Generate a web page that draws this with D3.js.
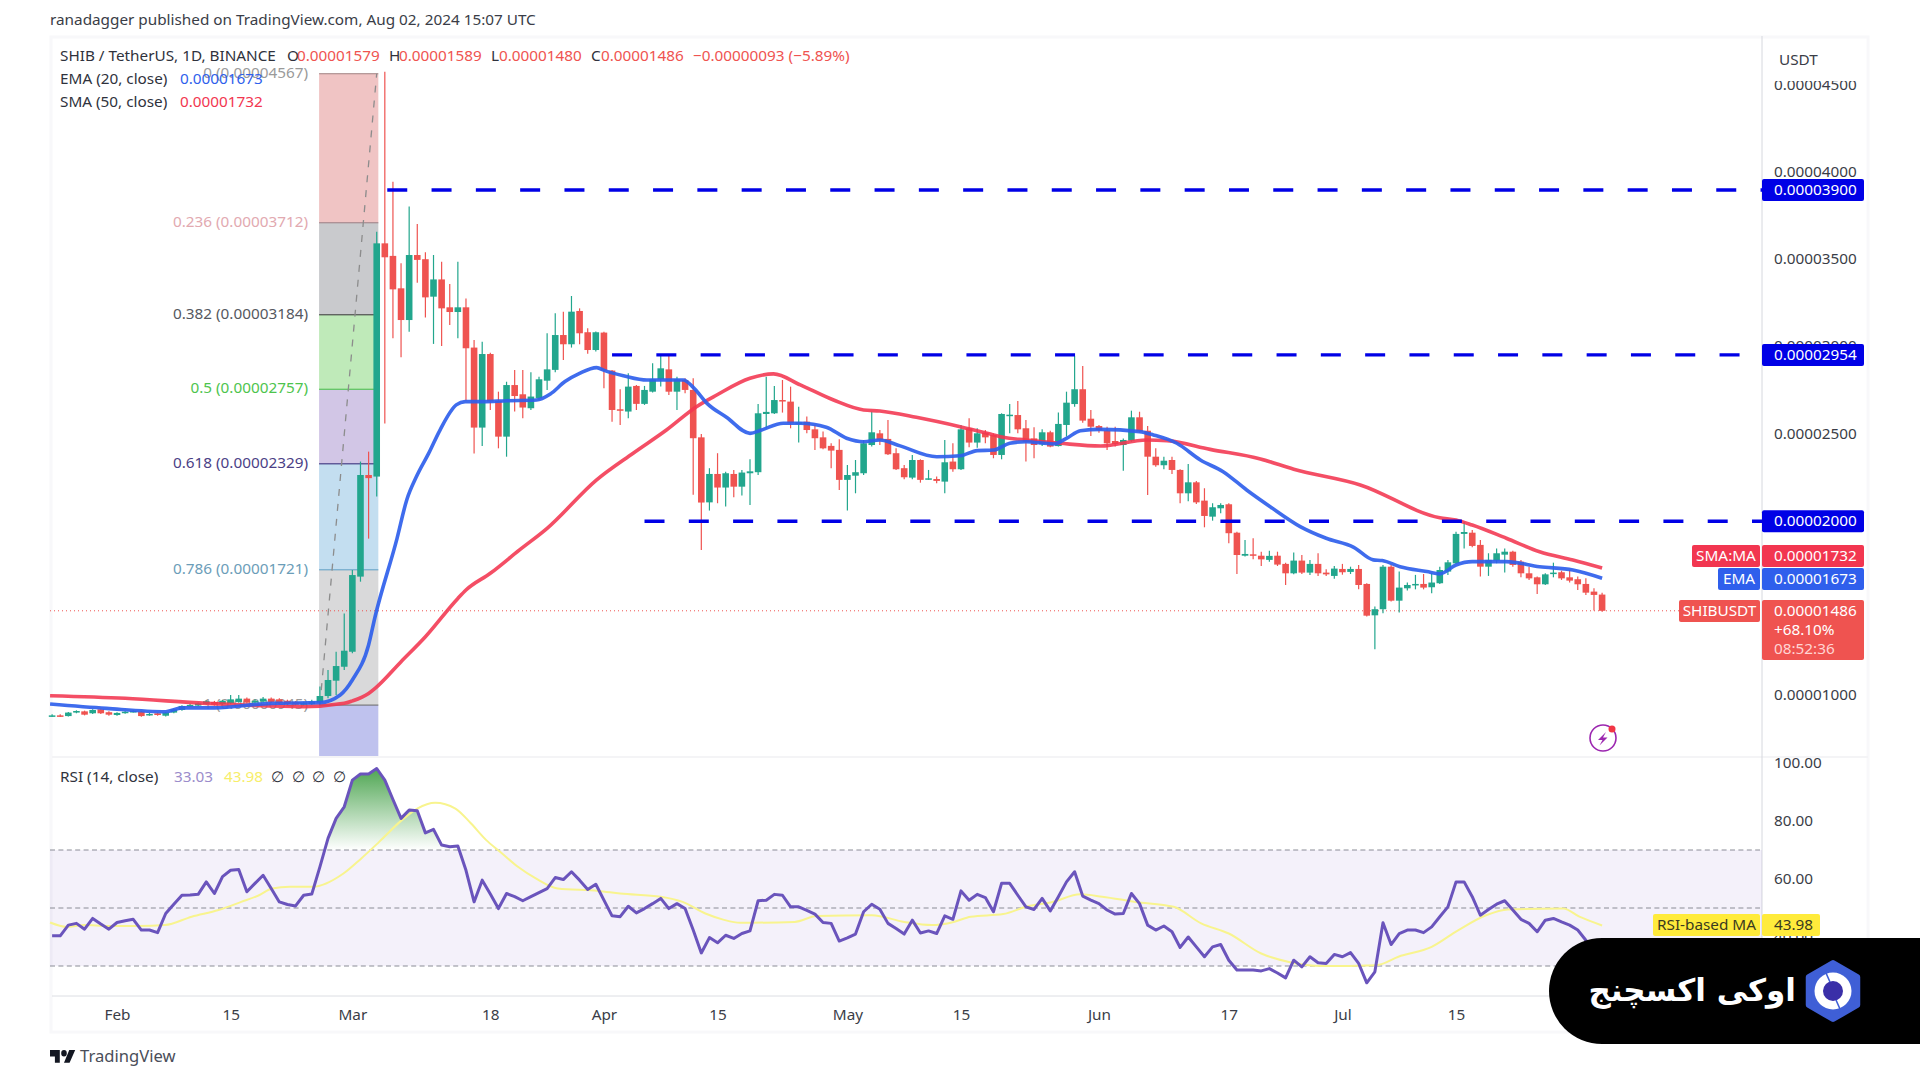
<!DOCTYPE html>
<html>
<head>
<meta charset="utf-8">
<style type="text/css">
html, body{
	padding: 0;
	margin: 0;
	background: white;
}
text {
	font-family: "Noto Sans", sans-serif;
	font-size: 15.3px;
	fill: #3a3d47;
}
</style>
</head>
<body>
<svg width=1920 height=1081></svg>
<script src="https://cdnjs.cloudflare.com/ajax/libs/d3/7.8.5/d3.min.js"></script>
<script type="text/javascript">
// prices are in 0.00000001 USDT, one row of ten per line, first candle is Jan 24
var opens = [
	884,886,882,902,909,898,921,904,888,900,
	907,907,888,898,884,902,917,940,942,951,
	963,951,955,963,982,959,965,982,978,970,
	963,947,950,959,997,1085,1165,1251,1682,2265,
	2256,3594,3522,3336,3154,3527,3503,3288,3387,3227,
	3200,3227,2996,2537,2959,2691,2485,2781,2728,2648,
	2705,2806,2868,3068,3015,3206,3084,2982,3082,2864,
	2642,2629,2776,2673,2743,2814,2871,2743,2810,2753,
	2481,2108,2271,2193,2271,2198,2275,2281,2615,2619,
	2695,2686,2558,2571,2527,2481,2432,2409,2237,2261,
	2275,2437,2504,2472,2390,2304,2250,2351,2239,2242,
	2227,2342,2298,2533,2451,2508,2495,2380,2604,2609,
	2533,2475,2441,2510,2431,2552,2672,2757,2588,2546,
	2519,2460,2437,2462,2596,2519,2370,2321,2351,2294,
	2160,2223,2118,2026,2074,2097,1934,1802,1810,1802,
	1778,1802,1755,1701,1774,1705,1755,1705,1686,1726,
	1709,1726,1640,1460,1495,1739,1544,1615,1634,1640,
	1621,1644,1711,1758,1927,1934,1864,1739,1774,1808,
	1825,1768,1701,1678,1638,1697,1707,1678,1667,1640,
	1596,1579
]
var highs = [
	892,892,905,915,913,921,925,910,904,911,
	915,911,900,902,906,925,944,952,960,972,
	969,975,1003,1003,988,978,992,988,984,976,
	968,964,975,1051,1146,1251,1471,1720,2342,2399,
	3661,4579,3948,3480,3805,3705,3543,3527,3489,3361,
	3489,3278,3039,3030,2967,2743,2800,2868,2868,2854,
	2829,3078,3193,3202,3292,3221,3107,3088,3087,2868,
	2757,2848,2782,2776,2906,2954,2954,2829,2820,2820,
	2500,2304,2390,2284,2294,2294,2355,2673,2829,2776,
	2810,2772,2657,2600,2552,2514,2447,2470,2323,2351,
	2466,2629,2523,2581,2418,2323,2380,2355,2294,2256,
	2466,2447,2552,2590,2533,2523,2504,2619,2672,2690,
	2581,2539,2527,2519,2623,2743,2948,2890,2638,2552,
	2542,2542,2475,2634,2628,2546,2418,2370,2370,2298,
	2328,2231,2189,2103,2103,2103,1940,1892,1902,1825,
	1831,1825,1762,1820,1806,1778,1816,1724,1743,1755,
	1739,1749,1644,1510,1749,1749,1711,1648,1692,1697,
	1701,1739,1778,1940,1997,1950,1892,1816,1844,1844,
	1831,1778,1739,1682,1701,1762,1716,1720,1682,1672,
	1615,1589
]
var lows = [
	878,876,880,898,886,894,894,884,884,896,
	903,878,884,884,880,898,913,936,938,947,
	942,947,950,958,954,954,960,957,950,946,
	942,942,945,946,984,1003,1146,1242,1653,1900,
	2141,2561,3049,2940,3087,3368,3169,3017,3005,3125,
	3049,2691,2389,2431,2638,2418,2370,2629,2590,2638,
	2695,2753,2854,2925,2996,3015,2960,2973,2762,2571,
	2552,2590,2638,2667,2738,2772,2724,2638,2734,2151,
	1835,2061,2103,2084,2137,2147,2093,2265,2533,2615,
	2623,2533,2451,2504,2409,2413,2304,2179,2061,2160,
	2265,2428,2437,2380,2294,2240,2240,2221,2237,2217,
	2160,2284,2294,2424,2422,2447,2361,2355,2504,2504,
	2342,2361,2431,2424,2428,2485,2657,2565,2489,2508,
	2409,2428,2290,2456,2508,2150,2313,2298,2271,2103,
	2114,2099,1965,2003,2045,1873,1697,1797,1781,1743,
	1768,1743,1634,1695,1697,1692,1686,1686,1670,1693,
	1697,1609,1453,1265,1472,1539,1476,1602,1609,1609,
	1586,1640,1692,1755,1844,1850,1682,1686,1758,1705,
	1739,1678,1663,1583,1634,1678,1663,1648,1605,1577,
	1487,1480
]
var closes = [
	886,882,902,911,890,917,898,890,900,907,
	911,882,894,888,902,921,940,946,955,967,
	947,970,978,982,959,970,982,963,955,951,
	947,959,965,997,1089,1169,1257,1691,2265,2247,
	3594,3514,3330,3154,3527,3499,3284,3387,3221,3200,
	3227,2992,2537,2959,2686,2485,2781,2718,2652,2715,
	2814,2871,3068,3015,3202,3078,2982,3084,2864,2638,
	2636,2772,2673,2753,2814,2877,2743,2814,2753,2476,
	2107,2271,2193,2275,2198,2279,2286,2619,2627,2695,
	2688,2562,2567,2523,2476,2418,2405,2237,2265,2281,
	2447,2510,2466,2384,2298,2252,2351,2237,2246,2231,
	2338,2298,2527,2451,2504,2481,2380,2615,2611,2527,
	2456,2437,2510,2428,2558,2680,2757,2577,2542,2523,
	2447,2443,2466,2596,2514,2370,2321,2347,2294,2160,
	2223,2108,2030,2080,2093,1931,1806,1812,1804,1781,
	1801,1751,1701,1774,1705,1755,1701,1695,1728,1707,
	1726,1634,1458,1495,1739,1544,1619,1634,1640,1619,
	1648,1720,1764,1927,1938,1858,1739,1778,1816,1825,
	1749,1701,1672,1638,1695,1705,1672,1659,1638,1590,
	1577,1486
]

// moving averages, day is a candle position
var emaDays = [-0.25,6.7,14,16,20,27,33,35.5,37,39,39.8,42.5,43.7,44.9,46.4,47.8,49.8,50.9,53.1,56,59.7,61.4,63.2,65,67.1,68.1,70.4,73.3,77.8,79,80.7,83.1,86,87.4,90.1,92.2,95.4,97.9,100,102,104.5,109,111.9,114,116,118,120,123.4,125,126.7,129.2,134,135.7,138.6,141.5,144.3,147.2,150.1,153.8,157,160.4,162.8,163.9,166.1,169.4,171,173,175,179.2,183.3,187.4,191]
var emaValues = [951,926,907,929,929,955,959,1003,1089,1290,1452,1900,2122,2256,2389,2523,2667,2686,2686,2691,2695,2730,2801,2848,2881,2864,2835,2810,2810,2768,2676,2596,2504,2523,2562,2562,2539,2476,2456,2466,2432,2370,2375,2405,2408,2447,2456,2443,2475,2519,2527,2514,2495,2447,2351,2284,2179,2083,1969,1902,1850,1778,1774,1739,1711,1698,1749,1768,1768,1739,1720,1673]
var smaDays = [-0.25,9,19,31,36,37,39,39.8,43,46,50,51,54,57.6,61,67.1,71.6,75.7,79.4,81.9,86,88.9,92.2,96.3,100,102,106.5,111.9,116,117.2,120,124.2,129.2,134.9,137.4,142.7,148.9,153,161.2,171,173,175,179.2,183.3,187.4,191]
var smaValues = [999,984,955,936,955,969,1012,1041,1194,1337,1557,1605,1701,1835,1959,2237,2390,2523,2657,2724,2820,2845,2782,2695,2638,2632,2596,2542,2495,2481,2466,2447,2431,2466,2462,2412,2357,2298,2208,2020,2007,1978,1902,1825,1778,1732]

// rsi, one value per candle
var rsiValues = [
	40.4,40.4,44.1,44.7,42.7,46.4,44.5,42.7,45,45.6,
	46.1,42.4,42.4,41.5,48.1,51.3,54.4,54.5,54.7,59,
	55,60.8,63,63.3,55.6,58.5,61.3,56.7,52.1,51.2,
	50.7,54.4,54.8,64.2,74,80.9,84.9,94.1,96.2,96.2,
	98.1,94.1,87.4,80.9,83.8,83.5,75.9,77.1,71.7,71.1,
	71.4,63,52.1,59.6,54.8,49.8,55,53.9,52.5,53.9,
	55.3,56.7,60.5,59.8,62.5,59.6,56.4,58.2,52.7,47.3,
	47,50.6,48.3,49.8,51.5,53.3,49.8,51.5,49.8,42.4,
	34.5,39.8,38,40.6,39.5,41.2,42.1,52.5,52.7,54.7,
	54.4,50.4,50.4,49.2,47.9,45,44.7,38.6,39.7,41,
	48.7,51.3,49.6,44.7,42.9,41,45.8,41.4,42.1,41.2,
	47.3,46.1,55.9,52.7,54.7,53.6,48.7,58.5,58.5,54.4,
	50.4,49.5,53.3,49,53.9,59,62.5,54.1,52.7,51.5,
	49.3,47.9,48.1,55,51.5,44.1,42.4,43.8,41.8,36.4,
	40,36.6,33.2,36.6,37.4,32,28.6,28.6,28.6,28.3,
	29.1,27.6,25.9,32,29.7,33.2,31.1,30.9,34,33.2,
	34.6,30.9,24.2,28,44.9,37.4,41.2,42.4,42.4,41.5,
	43.5,47,50.4,59,59,53.9,47.5,49.5,51.3,52.5,
	49.3,46.1,44.7,41.8,45.8,46.4,45.2,44.1,42.4,38.9,
	36,33.03
]
var rsiMaDays = [-0.25,1.8,4,6.8,10.6,13.9,17.2,20.5,23.3,25.5,27.1,29.3,32.1,35.9,38.1,40.3,43.1,45,47.2,49.7,51.6,53.5,55.2,57.4,59.6,62.3,67.3,70,75,77.7,80.5,82.7,84.8,91.5,94.2,101,105,108.4,111.1,113.2,117.2,120,123.3,126.7,129.4,133.5,138.2,141.6,145,149,152.4,156.4,163.2,165.9,170,173.3,176.7,179.4,186.2,188.2,191]
var rsiMaValues = [45,43.5,44.1,43.8,43.8,44.1,47,49.3,52.1,54.4,56.7,57.3,57.3,61.9,67.1,72.8,80.3,84.3,86.3,84.3,79.2,73.4,69.4,64.2,60.2,56.7,55.9,55,53.9,52.1,48.1,46,44.9,45.2,47.2,47.5,45.2,44.1,45.2,47,47.9,50.4,52.1,54.7,53.9,52.1,50.4,44.7,41.2,34.3,31.4,30,30.3,33.2,36.6,42.4,47.5,49.5,49.8,47,43.98]

var priceTicks = [4500,4000,3500,3000,2500,2000,1500,1000]
var rsiTicks = [100,80,60,40]
var rsiBands = [70,50,30]
var timeDays = [8,22,37,54,68,82,98,112,129,145,159,173]
var timeLabels = ['Feb','15','Mar','18','Apr','15','May','15','Jun','17','Jul','15']

var levels = [3900,2954,2000]
var levelStarts = [41.3,69,73]

var fibRatios = ['0','0.236','0.382','0.5','0.618','0.786','1']
var fibPrices = [4567,3712,3184,2757,2329,1721,945]
var fibBottom = 653

var svg = d3.select('svg')
var fmt = d=>(d/1e8).toFixed(8)
var fontSize = '15.3px'

var x = d3.scaleLinear().domain([0,191]).range([52.1,1602.1])
var y = d3.scaleLinear().domain([1000,3900]).range([695.5,190])
var yRsi = d3.scaleLinear().domain([30,100]).range([966,763])

var green = '#22a68d', red = '#ef5350', lineBlue = '#2f5fec', lineRed = '#f23650', levelBlue = '#0000e6'

// pane frames
svg.append('rect').attr('x',51).attr('y',37).attr('width',1817).attr('height',995)
	.attr('fill','white').attr('stroke','#f8f8fa').attr('stroke-width',3)
svg.append('line').attr('x1',52).attr('x2',1868).attr('y1',757).attr('y2',757).attr('stroke','#f4f4f6').attr('stroke-width',2)
svg.append('line').attr('x1',52).attr('x2',1762).attr('y1',996).attr('y2',996).attr('stroke','#dcdee3')
svg.append('line').attr('x1',1762).attr('x2',1762).attr('y1',36).attr('y2',1032).attr('stroke','#d6d8de')

svg.append('text').attr('x',50).attr('y',25).text('ranadagger published on TradingView.com, Aug 02, 2024 15:07 UTC')

// fib block
var fibFills = ['#f0c4c4','#c9cacd','#bfeab9','#d2c6e6','#c3def0','#d9d9da','#bfc2ee']
var fibLines = ['#a08080','#9a7b80','#333','#3fc03f','#2a2070','#5a9cc4','#666']
var fibTexts = ['#9a9a9a','#e2a9b0','#555860','#4dc44d','#4b3f86','#6b9db8','#9a9a9a']
var fibEdges = fibPrices.concat([fibBottom])
var fibL = x(32.9), fibR = x(40.2)
fibFills.forEach((c,p)=>{
	svg.append('rect').attr('x',fibL).attr('width',fibR-fibL)
		.attr('y',y(fibEdges[p])).attr('height',y(fibEdges[p+1])-y(fibEdges[p])).attr('fill',c)
	svg.append('line').attr('x1',fibL).attr('x2',fibR).attr('y1',y(fibEdges[p])).attr('y2',y(fibEdges[p]))
		.attr('stroke',fibLines[p]).attr('stroke-width',1)
})
fibRatios.forEach((r,p)=>{
	svg.append('text').attr('x',308).attr('y',y(fibPrices[p])+4).attr('text-anchor','end')
		.style('fill',fibTexts[p]).text(r+' ('+fmt(fibPrices[p])+')')
})
svg.append('line').attr('x1',x(33)).attr('y1',y(fibPrices[6])).attr('x2',x(40)).attr('y2',y(fibPrices[0]))
	.attr('stroke','#8c8c8c').attr('stroke-width',1.3).attr('stroke-dasharray','7 8')

// last price line
svg.append('line').attr('x1',50).attr('x2',1680).attr('y1',y(1486)).attr('y2',y(1486))
	.attr('stroke',red).attr('stroke-dasharray','1 3')

// candles
var candles = svg.append('g').selectAll('g').data(closes).enter().append('g')
var tone = (d,p)=>d>=opens[p]?green:red
candles.append('line')
	.attr('x1',(d,p)=>x(p)).attr('x2',(d,p)=>x(p))
	.attr('y1',(d,p)=>y(highs[p])).attr('y2',(d,p)=>y(lows[p]))
	.attr('stroke',tone).attr('stroke-width',1.2)
candles.append('rect')
	.attr('x',(d,p)=>x(p)-3.3).attr('width',6.6)
	.attr('y',(d,p)=>y(Math.max(d,opens[p])))
	.attr('height',(d,p)=>Math.max(1.5,Math.abs(y(d)-y(opens[p]))))
	.attr('fill',tone)

// moving averages
var maLine = (days)=>d3.line().x((d,p)=>x(days[p])).y(d=>y(d)).curve(d3.curveMonotoneX)
svg.append('path').attr('d',maLine(smaDays)(smaValues)).attr('fill','none').attr('stroke',lineRed).attr('stroke-width',3.6).attr('opacity',0.88)
svg.append('path').attr('d',maLine(emaDays)(emaValues)).attr('fill','none').attr('stroke',lineBlue).attr('stroke-width',3.6).attr('opacity',0.92)

// horizontal levels
levels.forEach((l,p)=>{
	svg.append('line').attr('x1',x(levelStarts[p])).attr('x2',1762).attr('y1',y(l)).attr('y2',y(l))
		.attr('stroke',levelBlue).attr('stroke-width',3.4).attr('stroke-dasharray','20 24.3')
})

// legend
var legend = (tx,ty,s,c)=>svg.append('text').attr('x',tx).attr('y',ty).style('fill',c||'#2f323c').text(s)
legend(60,61,'SHIB / TetherUS, 1D, BINANCE')
legend(287,61,'O'); legend(297,61,'0.00001579',red)
legend(389,61,'H'); legend(399,61,'0.00001589',red)
legend(491,61,'L'); legend(499,61,'0.00001480',red)
legend(591,61,'C'); legend(601,61,'0.00001486',red)
legend(693,61,'−0.00000093 (−5.89%)',red)
legend(60,84,'EMA (20, close)'); legend(180,84,'0.00001673',lineBlue)
legend(60,107,'SMA (50, close)'); legend(180,107,'0.00001732',lineRed)

// price axis
var priceAxis = svg.append('g').attr('transform','translate(1762,-0.8)')
	.call(d3.axisRight(y).tickValues(priceTicks).tickSize(0).tickPadding(12).tickFormat(fmt))
priceAxis.select('.domain').remove()
priceAxis.selectAll('text').style('font-family','"Noto Sans", sans-serif').style('font-size',fontSize).style('fill','#3a3d47')

svg.append('rect').attr('x',1768).attr('y',43).attr('width',94).attr('height',38).attr('rx',3).attr('fill','white')
svg.append('text').attr('x',1779).attr('y',65).text('USDT')

// price labels
var tag = (tx,ty,w,h,c,s,tc,offset)=>{
	svg.append('rect').attr('x',tx).attr('y',ty).attr('width',w).attr('height',h).attr('rx',2).attr('fill',c)
	svg.append('text').attr('x',tx+(offset||w/2)).attr('y',ty+16).attr('text-anchor',offset?'start':'middle').style('fill',tc||'white').text(s)
}
levels.forEach(l=>tag(1762,y(l)-11,102,22,levelBlue,fmt(l),'white',12))
tag(1692,545,68,22,lineRed,'SMA:MA')
tag(1762,545,102,22,lineRed,'0.00001732','white',12)
tag(1718,568,42,22,lineBlue,'EMA')
tag(1762,568,102,22,lineBlue,'0.00001673','white',12)
tag(1679,600,81,22,red,'SHIBUSDT')
tag(1762,600,102,60,red,'0.00001486','white',12)
svg.append('text').attr('x',1774).attr('y',635).style('fill','white').text('+68.10%')
svg.append('text').attr('x',1774).attr('y',654).style('fill','#ffd5d3').text('08:52:36')

// alert icon
svg.append('circle').attr('cx',1603).attr('cy',738).attr('r',13).attr('fill','white').attr('stroke','#9c27b0').attr('stroke-width',1.6)
svg.append('path').attr('d','M1606 732l-8 8h4.5l-3 5.5 8-8h-4.5z').attr('fill','#9c27b0')
svg.append('circle').attr('cx',1612).attr('cy',729).attr('r',3.5).attr('fill','#f23645')

// rsi pane
svg.append('rect').attr('x',50).attr('width',1712).attr('y',yRsi(70)).attr('height',yRsi(30)-yRsi(70)).attr('fill','#7e57c2').attr('opacity',0.085)
rsiBands.forEach(b=>{
	svg.append('line').attr('x1',50).attr('x2',1760).attr('y1',yRsi(b)).attr('y2',yRsi(b))
		.attr('stroke','#8a8c96').attr('stroke-dasharray','5 3.4')
})
var defs = svg.append('defs')
var grad = defs.append('linearGradient').attr('id','over').attr('gradientUnits','userSpaceOnUse')
	.attr('x1',0).attr('x2',0).attr('y1',yRsi(100)).attr('y2',yRsi(70))
grad.append('stop').attr('offset',0).attr('stop-color','#43a047').attr('stop-opacity',1)
grad.append('stop').attr('offset',1).attr('stop-color','#43a047').attr('stop-opacity',0)
defs.append('clipPath').attr('id','aboveBand').append('rect')
	.attr('x',52).attr('width',1710).attr('y',yRsi(100)).attr('height',yRsi(70)-yRsi(100))
svg.append('path').attr('clip-path','url(#aboveBand)')
	.attr('d',d3.area().x((d,p)=>x(p)).y0(yRsi(70)).y1(d=>yRsi(d))(rsiValues)).attr('fill','url(#over)')

svg.append('path').attr('d',d3.line().x((d,p)=>x(rsiMaDays[p])).y(d=>yRsi(d)).curve(d3.curveMonotoneX)(rsiMaValues))
	.attr('fill','none').attr('stroke','#f8f48e').attr('stroke-width',2)
svg.append('path').attr('d',d3.line().x((d,p)=>x(p)).y(d=>yRsi(d))(rsiValues))
	.attr('fill','none').attr('stroke','#6a54bc').attr('stroke-width',3).attr('stroke-linejoin','round')

legend(60,782,'RSI (14, close)')
legend(174,782,'33.03','#9b8ccb')
legend(224,782,'43.98','#f7ee6a')
;['∅','∅','∅','∅'].forEach((s,p)=>legend(271+p*20.5,782,s))

var rsiAxis = svg.append('g').attr('transform','translate(1762,-0.5)')
	.call(d3.axisRight(yRsi).tickValues(rsiTicks).tickSize(0).tickPadding(12).tickFormat(d=>d.toFixed(2)))
rsiAxis.select('.domain').remove()
rsiAxis.selectAll('text').style('font-family','"Noto Sans", sans-serif').style('font-size',fontSize).style('fill','#3a3d47')

tag(1653,914,107,22,'#ffeb3b','RSI-based MA','#3a3a20')
tag(1762,914,58,22,'#ffeb3b','43.98','#3a3a20',12)

// time axis
var timeAxis = svg.append('g').attr('transform','translate(0,996)')
	.call(d3.axisBottom(x).tickValues(timeDays).tickSize(0).tickPadding(13).tickFormat((d,p)=>timeLabels[p]))
timeAxis.select('.domain').remove()
timeAxis.selectAll('text').style('font-family','"Noto Sans", sans-serif').style('font-size',fontSize).style('fill','#3a3d47')

// footer logo
svg.append('path').attr('transform','translate(50,1045.2) scale(0.7,0.8)')
	.attr('d','M14 6H0v8h7v8h7V6Zm14 16h-8l7.5-16H36l-8 16ZM20 14a4 4 0 1 0 0-8 4 4 0 0 0 0 8Z').attr('fill','#131722')
svg.append('text').attr('x',80).attr('y',1062).style('font-size','16.6px').style('fill','#4a4e59').text('TradingView')

// exchange badge
svg.append('path').attr('d','M1920 938H1602a53 53 0 0 0 0 106H1920Z').attr('fill','black')
svg.append('text').attr('x',1796).attr('y',1001).attr('text-anchor','start').attr('direction','rtl')
	.style('font-family','"DejaVu Sans", sans-serif').style('font-weight','bold').style('font-size','31px').style('fill','white')
	.text('اوکی اکسچنج')
var hex = d3.range(6).map(k=>[1833+28*Math.sin(k*Math.PI/3),991-28*Math.cos(k*Math.PI/3)].join(','))
svg.append('polygon').attr('points',hex.join(' ')).attr('fill','#3f5fd6').attr('stroke','#3f5fd6').attr('stroke-width',6).attr('stroke-linejoin','round')
svg.append('circle').attr('cx',1833).attr('cy',991).attr('r',18.5).attr('fill','white')
svg.append('circle').attr('cx',1833).attr('cy',991).attr('r',10).attr('fill','#3a2fa8')
svg.append('path').attr('d','M1826 973l4 9M1840 1009l-4-9').attr('stroke','#3f5fd6').attr('stroke-width',1.6)
</script>
</body>
</html>
